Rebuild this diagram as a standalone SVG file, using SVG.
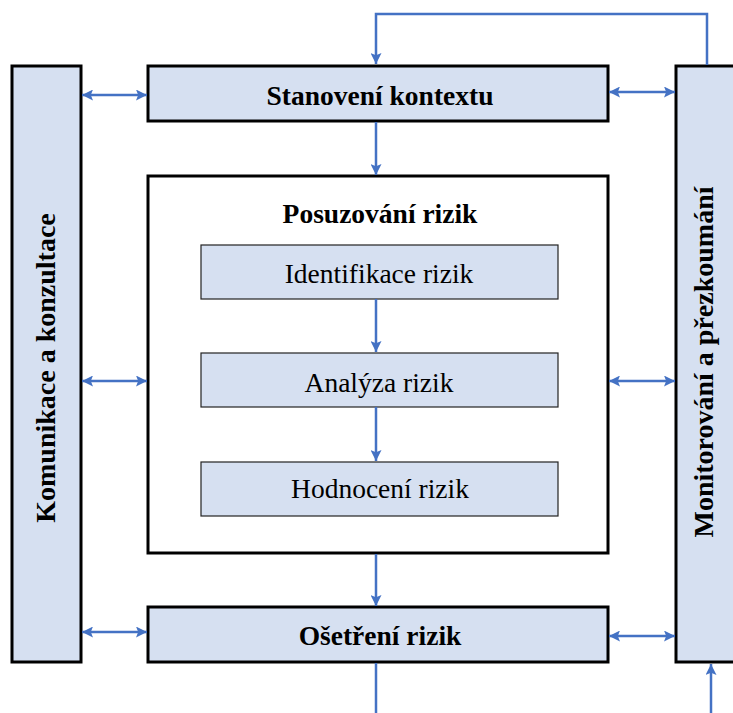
<svg xmlns="http://www.w3.org/2000/svg" width="733" height="713" viewBox="0 0 733 713">
  <style>
    .box { fill: #d6e0f1; stroke: #000; stroke-width: 3; }
    .frame { fill: #fff; stroke: #000; stroke-width: 3; }
    .step { fill: #d6e0f1; stroke: #222; stroke-width: 1.2; }
    .lbl { font-family: "Liberation Serif", "Times New Roman", serif; font-size: 27.5px; fill: #000; text-anchor: middle; }
    .b { font-weight: bold; }
    .side { font-size: 28px; }
    .link { fill: none; stroke: #4472c4; stroke-width: 2.5; }
  </style>
  <defs>
    <marker id="ah" viewBox="0 0 10 10" refX="10" refY="5" markerWidth="4.4" markerHeight="4.4" markerUnits="strokeWidth" orient="auto-start-reverse">
      <path d="M0,0 L10,5 L0,10 L2,5 z" fill="#4472c4"/>
    </marker>
  </defs>
  <rect width="733" height="713" fill="#fff"/>

  <g id="komunikace">
    <rect class="box" x="12" y="66" width="69" height="596"/>
    <text class="lbl b side" transform="translate(55,368) rotate(-90)">Komunikace a konzultace</text>
  </g>

  <g id="monitorovani">
    <rect class="box" x="676" y="66" width="80" height="596"/>
    <text class="lbl b side" transform="translate(713,362) rotate(-90)">Monitorování a přezkoumání</text>
  </g>

  <g id="stanoveni">
    <rect class="box" x="148" y="66" width="460" height="55"/>
    <text class="lbl b" x="380" y="105">Stanovení kontextu</text>
  </g>

  <g id="posuzovani">
    <rect class="frame" x="148" y="176" width="460" height="377"/>
    <text class="lbl b" x="380" y="223">Posuzování rizik</text>
  </g>

  <g id="identifikace">
    <rect class="step" x="201" y="245" width="357" height="54"/>
    <text class="lbl" x="379" y="283">Identifikace rizik</text>
  </g>

  <g id="analyza">
    <rect class="step" x="201" y="353" width="357" height="54"/>
    <text class="lbl" x="379" y="392">Analýza rizik</text>
  </g>

  <g id="hodnoceni">
    <rect class="step" x="201" y="462" width="357" height="54"/>
    <text class="lbl" x="380" y="498">Hodnocení rizik</text>
  </g>

  <g id="osetreni">
    <rect class="box" x="148" y="607" width="460" height="55"/>
    <text class="lbl b" x="380" y="645">Ošetření rizik</text>
  </g>

  <g id="connectors">
    <!-- two-way links to the side columns -->
    <line class="link" x1="82" y1="95" x2="147" y2="95" marker-start="url(#ah)" marker-end="url(#ah)"/>
    <line class="link" x1="82" y1="381" x2="147" y2="381" marker-start="url(#ah)" marker-end="url(#ah)"/>
    <line class="link" x1="82" y1="632" x2="147" y2="632" marker-start="url(#ah)" marker-end="url(#ah)"/>
    <line class="link" x1="609" y1="92" x2="675" y2="92" marker-start="url(#ah)" marker-end="url(#ah)"/>
    <line class="link" x1="609" y1="381" x2="675" y2="381" marker-start="url(#ah)" marker-end="url(#ah)"/>
    <line class="link" x1="609" y1="636" x2="675" y2="636" marker-start="url(#ah)" marker-end="url(#ah)"/>
    <!-- main flow -->
    <line class="link" x1="376" y1="122" x2="376" y2="175" marker-end="url(#ah)"/>
    <line class="link" x1="376" y1="299" x2="376" y2="352" marker-end="url(#ah)"/>
    <line class="link" x1="376" y1="407" x2="376" y2="461" marker-end="url(#ah)"/>
    <line class="link" x1="376" y1="554" x2="376" y2="606" marker-end="url(#ah)"/>
    <!-- feedback loop -->
    <polyline class="link" points="707,65 707,14 376,14 376,64" marker-end="url(#ah)"/>
    <line class="link" x1="376" y1="663" x2="376" y2="713"/>
    <line class="link" x1="711" y1="713" x2="711" y2="664" marker-end="url(#ah)"/>
  </g>
</svg>
